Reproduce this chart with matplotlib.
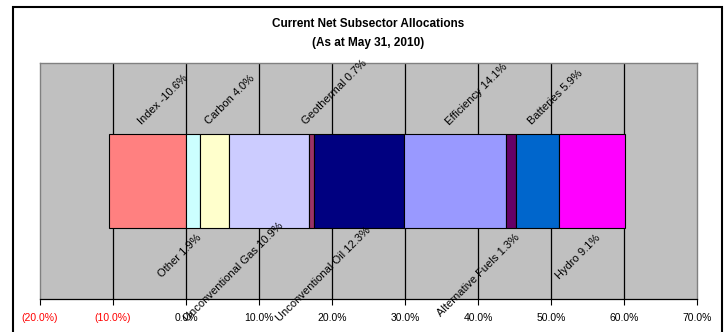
import matplotlib
matplotlib.use("Agg")
import matplotlib.pyplot as plt
from matplotlib.patches import Rectangle

categories = ["Index", "Other", "Carbon", "Unconventional Gas", "Geothermal",
              "Unconventional Oil", "Efficiency", "Alternative Fuels", "Batteries", "Hydro"]
values = [-10.6, 1.9, 4.0, 10.9, 0.7, 12.3, 14.1, 1.3, 5.9, 9.1]
colors = ["#FF8080", "#CCFFFF", "#FFFFCC", "#CCCCFF", "#993366",
          "#000080", "#9999FF", "#660066", "#0066CC", "#FF00FF"]
ticks = [-20, -10, 0, 10, 20, 30, 40, 50, 60, 70]
tick_labels = ["(20.0%)", "(10.0%)", "0.0%", "10.0%", "20.0%", "30.0%",
               "40.0%", "50.0%", "60.0%", "70.0%"]

plt.rcParams['font.family'] = ['Liberation Sans', 'DejaVu Sans']

fig = plt.figure(figsize=(7.26, 3.32), dpi=100)
fig.patches.append(Rectangle((13/726, -0.05), (722-13)/726, 1.05 - 7/332,
                             transform=fig.transFigure, fill=False,
                             edgecolor='black', linewidth=1.5, zorder=0))

ax = fig.add_axes([40/726, 1-299/332, (697-40)/726, (299-63)/332])
ax.set_facecolor("#C0C0C0")
ax.set_xlim(-20, 70)
ax.set_ylim(0, 1)

for t in ticks[1:-1]:
    ax.axvline(t, color='black', linewidth=0.9, zorder=1)

below = []
pos = 0.0
neg = 0.0
for i, (c, v, col) in enumerate(zip(categories, values, colors)):
    if v < 0:
        left = neg + v
        neg = left
    else:
        left = pos
        pos += v
    ax.barh(0.5, abs(v), left=left, height=0.4, color=col,
            edgecolor='black', linewidth=0.8, zorder=2)
    center = left + abs(v) / 2
    label = f"{c} {v:.1f}%"
    if i % 2 == 0:
        ax.annotate(label, xy=(center, 0.7), xytext=(-3, 5), textcoords='offset points',
                    rotation=45, rotation_mode='anchor', ha='left', va='bottom',
                    fontsize=8, zorder=3, annotation_clip=False)
    else:
        t = ax.annotate(label, xy=(center, 0.3), xytext=(2, -3), textcoords='offset points',
                        rotation=45, rotation_mode='anchor', ha='right', va='top',
                        fontsize=8, zorder=3, annotation_clip=False)
        below.append(t)

ax.set_xticks(ticks)
ax.set_xticklabels(tick_labels, fontsize=7.5)
for lbl, tk in zip(ax.get_xticklabels(), ticks):
    lbl.set_color('red' if tk < 0 else 'black')
ax.set_yticks([])
ax.tick_params(axis='x', direction='out', length=4, width=0.8, pad=6)
for s in ['left', 'top', 'right']:
    ax.spines[s].set_color('#808080')
    ax.spines[s].set_linewidth(1.0)
ax.spines['bottom'].set_color('black')
ax.spines['bottom'].set_linewidth(0.9)

fig.text(368/726, 1-24/332, "Current Net Subsector Allocations", ha='center', va='center',
         fontsize=8.5, fontweight='bold')
fig.text(368/726, 1-43/332, "(As at May 31, 2010)", ha='center', va='center',
         fontsize=8.5, fontweight='bold')

# keep long lower labels inside the chart area (like Excel does)
fig.canvas.draw()
renderer = fig.canvas.get_renderer()
min_y = 9  # pixels from the bottom of the figure
for t in below:
    bb = t.get_window_extent(renderer)
    if bb.y0 < min_y:
        d = (min_y - bb.y0) * 72 / fig.dpi
        x0, y0 = t.xyann
        t.xyann = (x0 + d * 0.5, y0 + d)

fig.savefig("out.png", dpi=100)
